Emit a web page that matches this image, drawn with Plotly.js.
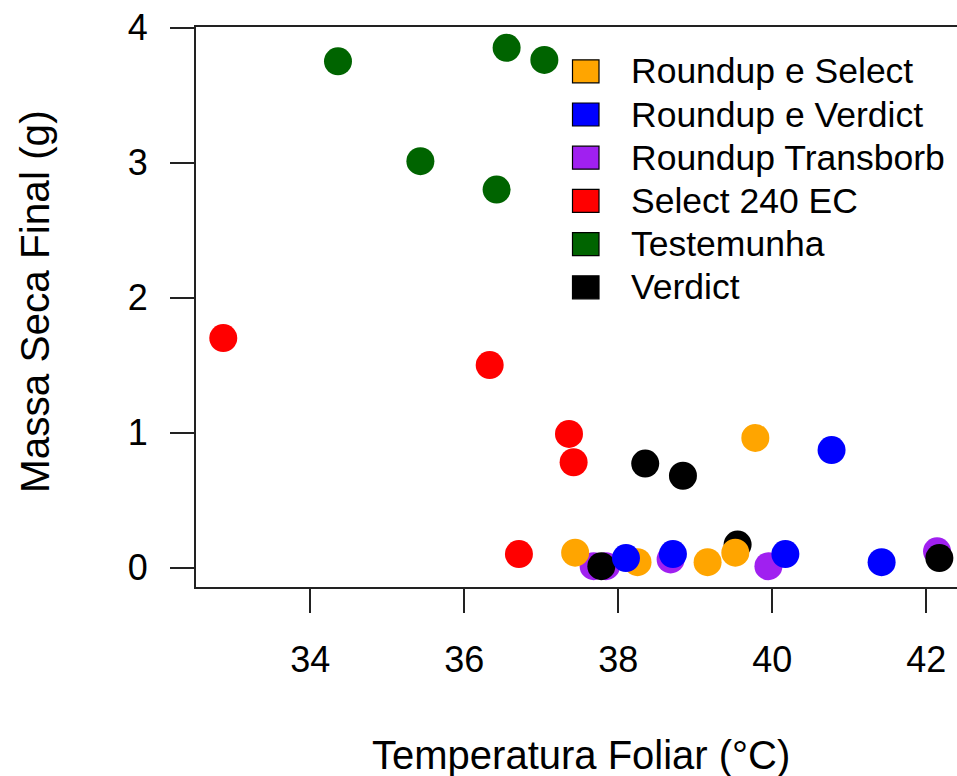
<!DOCTYPE html>
<html>
<head>
<meta charset="utf-8">
<script src="https://cdn.plot.ly/plotly-3.0.1.min.js"></script>
<style>
html, body { margin: 0; padding: 0; overflow: hidden; background: #fff; }
#chart { width: 980px; height: 776px; }
</style>
</head>
<body>
<div id="chart"></div>
<script>
// Legend categories (alphabetical, as in the reference legend)
const categories = ["Roundup e Select", "Roundup e Verdict", "Roundup Transborb", "Select 240 EC", "Testemunha", "Verdict"];
const colors = ["#FFA500", "#0000FF", "#A020F0", "#FF0000", "#006400", "#000000"];

// Temperatura Foliar (°C) and Massa Seca Final (g) per treatment
const roundupSelectX = [39.78, 37.44, 38.25, 39.16, 39.52];
const roundupSelectY = [0.96, 0.11, 0.04, 0.04, 0.11];

const roundupVerdictX = [40.77, 38.10, 38.71, 40.17, 41.42];
const roundupVerdictY = [0.87, 0.07, 0.10, 0.10, 0.04];

const roundupTransborbX = [37.68, 37.84, 38.68, 39.95, 42.14];
const roundupTransborbY = [0.01, 0.01, 0.06, 0.01, 0.12];

const select240X = [32.87, 36.33, 37.36, 37.42, 36.71];
const select240Y = [1.70, 1.50, 0.99, 0.78, 0.10];

const testemunhaX = [34.36, 35.43, 36.42, 36.55, 37.04];
const testemunhaY = [3.75, 3.01, 2.80, 3.85, 3.76];

const verdictX = [38.35, 38.84, 37.78, 39.55, 42.17];
const verdictY = [0.77, 0.68, 0.01, 0.17, 0.07];

const xTicks = [34, 36, 38, 40, 42];
const yTicks = [0, 1, 2, 3, 4];

const seriesX = [roundupSelectX, roundupVerdictX, roundupTransborbX, select240X, testemunhaX, verdictX];
const seriesY = [roundupSelectY, roundupVerdictY, roundupTransborbY, select240Y, testemunhaY, verdictY];

// drawing order (to reproduce overlaps): Transborb, Verdict, R+Select, R+Verdict, Select, Testemunha
const drawOrder = [2, 5, 0, 1, 3, 4];

const traces = drawOrder.map(i => ({
  type: "scatter",
  mode: "markers",
  name: categories[i],
  x: seriesX[i],
  y: seriesY[i],
  marker: { color: colors[i], size: 28, line: { width: 0 } },
  showlegend: false,
  hoverinfo: "x+y+name"
}));

const FONT = "Liberation Sans, Arial, sans-serif";

// plot area geometry in pixels (for the hand-drawn legend)
const plotTop = 27, plotH = 560, plotL = 196, plotW = 770;
const toPaperY = py => (plotTop + plotH - py) / plotH;
const toPaperX = px => (px - plotL) / plotW;

const shapes = [];
const annotations = [];
categories.forEach((c, i) => {
  const cy = 71.3 + i * 43.2;
  shapes.push({
    type: "rect", xref: "paper", yref: "paper",
    x0: toPaperX(572.5), x1: toPaperX(599),
    y0: toPaperY(cy + 11.5), y1: toPaperY(cy - 11.5),
    fillcolor: colors[i], line: { color: "#000", width: 1.2 }
  });
  annotations.push({
    xref: "paper", yref: "paper",
    x: toPaperX(629), y: toPaperY(cy),
    xanchor: "left", yanchor: "middle",
    text: c, showarrow: false,
    font: { family: FONT, size: 35.5, color: "#000" }
  });
});

annotations.push({
  xref: "paper", yref: "paper", x: 0.5, y: 0,
  xanchor: "center", yanchor: "middle", yshift: -168,
  text: "Temperatura Foliar (°C)", showarrow: false,
  font: { family: FONT, size: 40, color: "#000" }
});
annotations.push({
  xref: "paper", yref: "paper", x: 0, y: 0.5,
  xanchor: "center", yanchor: "middle", xshift: -161, yshift: 5,
  textangle: -90,
  text: "Massa Seca Final (g)", showarrow: false,
  font: { family: FONT, size: 40.5, color: "#000" }
});

const layout = {
  width: 980, height: 776,
  margin: { l: 196, r: 14, t: 27, b: 189 },
  paper_bgcolor: "#fff", plot_bgcolor: "#fff",
  showlegend: false,
  font: { family: FONT, size: 36, color: "#000" },
  xaxis: {
    range: [32.516, 42.516],
    tickvals: xTicks, ticktext: xTicks.map(String),
    ticks: "outside", ticklen: 24, tickwidth: 2, tickcolor: "#222",
    ticklabelstandoff: 16,
    showline: true, linecolor: "#222", linewidth: 2, mirror: true,
    showgrid: false, zeroline: false,
    tickfont: { family: FONT, size: 36, color: "#000" }
  },
  yaxis: {
    range: [-0.144, 4.004],
    tickvals: yTicks, ticktext: yTicks.map(String),
    ticks: "outside", ticklen: 24, tickwidth: 2, tickcolor: "#222",
    ticklabelstandoff: 15,
    showline: true, linecolor: "#222", linewidth: 2, mirror: true,
    showgrid: false, zeroline: false,
    tickfont: { family: FONT, size: 36, color: "#000" }
  },
  shapes: shapes,
  annotations: annotations
};

Plotly.newPlot("chart", traces, layout, { displayModeBar: false, staticPlot: true });
</script>
</body>
</html>
